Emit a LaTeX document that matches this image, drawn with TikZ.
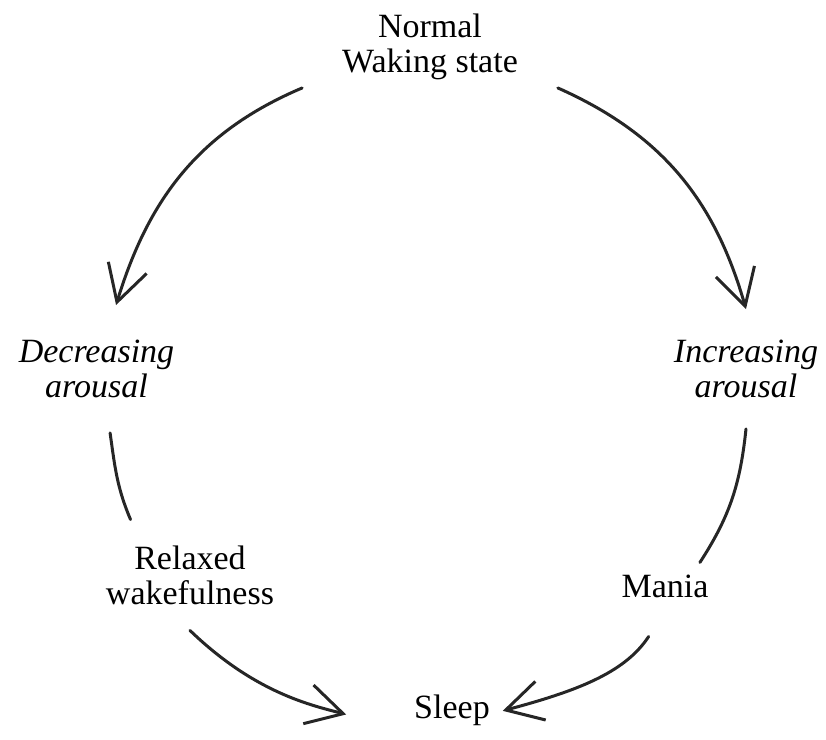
\documentclass[tikz,border=0pt]{standalone}
\usepackage{fontspec}
\setmainfont{Liberation Serif}
\usetikzlibrary{arrows.meta}
\tikzset{>={Straight Barb[length=18pt,width=20pt]}}

\begin{document}
\begin{tikzpicture}[x=0.5pt, y=0.5pt]
        \useasboundingbox (0,0) rectangle (826,740);
        % W = waking, D/I = decreasing/increasing arousal, R = relaxed, M = mania, S = sleep
        \tikzstyle{every node}=[align=center, inner sep=0pt, outer sep=0pt, font=\fontsize{17}{17.5}\selectfont]
        \tikzstyle{cyc}=[black!85, line width=1.5pt, line cap=round]
        \node[inner xsep=20pt, inner ysep=4pt] (W) at (430, 693) {Normal\\Waking state};
        \node[inner ysep=17.5pt, font=\fontsize{17}{17.5}\selectfont\itshape] (D) at (96.5, 371) {Decreasing\\arousal};
        \node[inner ysep=15.5pt, font=\fontsize{17}{17.5}\selectfont\itshape] (I) at (746, 371) {Increasing\\arousal};
        \node[inner xsep=2pt, inner ysep=13pt] (R) at (190, 165) {Relaxed\\wakefulness};
        \node[inner sep=6.5pt, anchor=base] (M) at (665, 142) {Mania};
        \node[inner xsep=6.5pt, inner ysep=1.5pt, anchor=base] (S) at (452, 21) {Sleep};

        % round the cycle
        \draw[cyc, ->] (W.south west) to[out=203, in=73] (D.73);
        \draw[cyc, ->] (W.south east) to[out=336, in=106] (I.north);
        \draw[cyc] (D.282) to[out=278, in=113] (R.137);
        \draw[cyc] (I.south) to[out=264, in=57] (M.35);
        \draw[cyc, ->, shorten >=28.5pt] (R.south) to[out=316, in=165] (S.south west);
        \draw[cyc, ->, shorten <=15pt] (M.south) to[out=237, in=15] (S.east);
\end{tikzpicture}
\end{document}
